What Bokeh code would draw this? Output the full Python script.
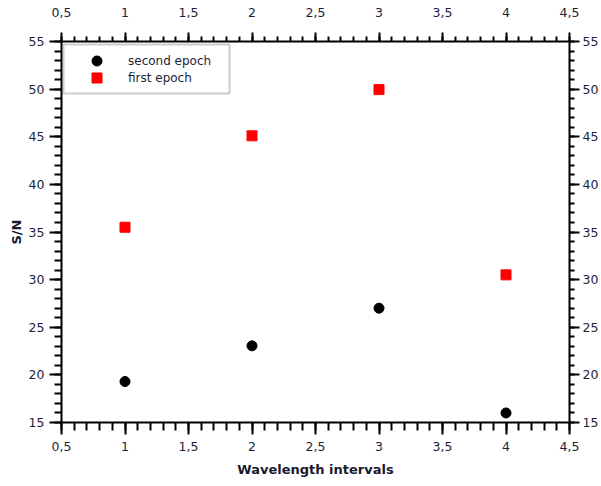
from bokeh.plotting import figure
from bokeh.models import LinearAxis, FixedTicker, Range1d, Legend, LegendItem, BoxAnnotation
from bokeh.embed import file_html
from bokeh.resources import INLINE

# ---- data ----
intervals = [1, 2, 3, 4]
second_epoch = [19.3, 23.05, 27.0, 16.0]
first_epoch = [35.5, 45.1, 49.95, 30.5]

x_ticks = [0.5, 1, 1.5, 2, 2.5, 3, 3.5, 4, 4.5]
x_tick_labels = ["0,5", "1", "1,5", "2", "2,5", "3", "3,5", "4", "4,5"]
y_ticks = [15, 20, 25, 30, 35, 40, 45, 50, 55]
y_tick_labels = ["15", "20", "25", "30", "35", "40", "45", "50", "55"]
x_minor = [round(0.5 + 0.1 * i, 2) for i in range(41)]
y_minor = list(range(15, 56))

FONT = "DejaVu Sans"
TICK_COLOR = "#1e1e3a"

p = figure(width=601, height=486,
           x_range=Range1d(0.5, 4.5), y_range=Range1d(15, 55),
           output_backend="svg", toolbar_location=None,
           x_axis_location=None, y_axis_location=None,
           min_border_left=61, min_border_right=32,
           min_border_top=41, min_border_bottom=64)
p.grid.visible = False
p.outline_line_color = None
p.background_fill_color = "white"
p.border_fill_color = "white"


def make_axis(ticks, minor, labels, tick_out, minor_out, standoff, label=None, label_standoff=0):
    ax = LinearAxis(ticker=FixedTicker(ticks=ticks, minor_ticks=minor),
                    major_label_overrides={float(t): l for t, l in zip(ticks, labels)})
    ax.axis_line_width = 2
    ax.axis_line_color = "black"
    ax.major_tick_in = 0
    ax.minor_tick_in = 0
    ax.major_tick_out = tick_out
    ax.minor_tick_out = minor_out
    ax.major_tick_line_width = 2
    ax.minor_tick_line_width = 2
    ax.major_tick_line_color = "black"
    ax.minor_tick_line_color = "black"
    ax.major_label_standoff = standoff
    ax.major_label_text_font = FONT
    ax.major_label_text_font_size = "12.5px"
    ax.major_label_text_color = TICK_COLOR
    if label:
        ax.axis_label = label
        ax.axis_label_text_font = FONT
        ax.axis_label_text_font_style = "bold"
        ax.axis_label_text_font_size = "13px"
        ax.axis_label_text_color = "#1a1a2e"
        ax.axis_label_standoff = label_standoff
    return ax


p.add_layout(make_axis(x_ticks, x_minor, x_tick_labels, 12, 8, 7, "Wavelength intervals", 8), "below")
p.add_layout(make_axis(x_ticks, x_minor, x_tick_labels, 9, 5, 16), "above")
p.add_layout(make_axis(y_ticks, y_minor, y_tick_labels, 12, 7, 5, "S/N", 2), "left")
p.add_layout(make_axis(y_ticks, y_minor, y_tick_labels, 10, 5, 3), "right")

r2 = p.scatter(intervals, second_epoch, marker="circle", size=10,
               fill_color="black", line_color="black")
r1 = p.scatter(intervals, first_epoch, marker="square", size=10,
               fill_color="#ff0000", line_color="#ff0000")

# legend frame (screen units, relative to the plot frame's bottom-left)
box = BoxAnnotation(left=2, right=168, top=378, bottom=329,
                    left_units="screen", right_units="screen",
                    top_units="screen", bottom_units="screen",
                    fill_color="white", fill_alpha=1.0,
                    line_color="#5a5a5a", line_width=2, level="annotation")
p.add_layout(box)


def legend_row(renderer, text, loc):
    return Legend(items=[LegendItem(label=text, renderers=[renderer])],
                  location=loc, margin=0, padding=0, spacing=0,
                  glyph_width=25, glyph_height=25, label_height=25,
                  label_width=20, label_standoff=19,
                  label_text_font=FONT, label_text_font_size="12px",
                  label_text_color="#1e1e3a", label_text_baseline="middle",
                  border_line_color=None, background_fill_alpha=0.0)


p.add_layout(legend_row(r2, "second epoch", (23, 349)), "center")
p.add_layout(legend_row(r1, "first epoch", (23, 332)), "center")

open("out.html", "w").write(file_html(p, INLINE))
